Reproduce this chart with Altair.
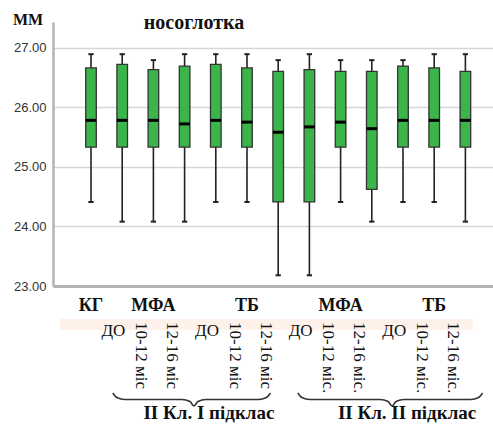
import altair as alt
import pandas as pd

# ---- data ----
labels = ["КГ", "ДО", "10-12 міс", "12-16 міс", "ДО", "10-12 міс", "12-16 міс",
          "ДО", "10-12 міс.", "12-16 міс.", "ДО", "10-12 міс.", "12-16 міс."]
w_low  = [24.41, 24.08, 24.08, 24.08, 24.41, 24.41, 23.18, 23.18, 24.41, 24.08, 24.41, 24.41, 24.08]
q1     = [25.33, 25.33, 25.33, 25.33, 25.33, 25.33, 24.41, 24.41, 25.33, 24.62, 25.33, 25.33, 25.33]
median = [25.78, 25.78, 25.78, 25.72, 25.78, 25.75, 25.58, 25.67, 25.75, 25.64, 25.78, 25.78, 25.78]
q3     = [26.66, 26.72, 26.63, 26.69, 26.72, 26.66, 26.60, 26.63, 26.60, 26.60, 26.69, 26.66, 26.60]
w_high = [26.89, 26.89, 26.79, 26.89, 26.89, 26.89, 26.79, 26.89, 26.79, 26.79, 26.79, 26.89, 26.89]

headers = ["КГ", "МФА", "ТБ", "МФА", "ТБ"]
header_center = [0, 2, 5, 8, 11]
subclasses = ["ІІ Кл. І підклас", "ІІ Кл. ІІ підклас"]
brace_start = [0.70, 6.63]
brace_tip = [3.30, 9.65]
brace_end = [5.75, 12.55]

y_ticks = [23, 24, 25, 26, 27]

# ---- layout helpers ----
W, H = 440, 264
Y_MIN, Y_MAX = 23.0, 27.43
X_MIN, X_MAX = -1.218, 12.885
PX_PER_Y = H / (Y_MAX - Y_MIN)
PX_PER_X = W / (X_MAX - X_MIN)

def below(px):
    """pixel distance below plot bottom -> y data value"""
    return Y_MIN - px / PX_PER_Y

idx = list(range(len(labels)))
df = pd.DataFrame({"i": idx, "label": labels, "lo": w_low, "q1": q1,
                   "med": median, "q3": q3, "hi": w_high})

xscale = alt.Scale(domain=[X_MIN, X_MAX], nice=False, zero=False)
yscale = alt.Scale(domain=[Y_MIN, Y_MAX], nice=False, zero=False)
xaxis = alt.Axis(labels=False, ticks=False, grid=False, title=None,
                 domainColor="#b3b3b3", domainWidth=3)
yaxis = alt.Axis(values=y_ticks, format=".2f", title=None, grid=True,
                 gridColor="#d6d6d6", gridWidth=1.5, ticks=False,
                 domainColor="#b3b3b3", domainWidth=2.5,
                 labelFont="Liberation Sans", labelFontSize=13,
                 labelColor="#333333", labelPadding=7)

def X(f):
    return alt.X(f, scale=xscale, axis=xaxis)

def Y(f):
    return alt.Y(f, scale=yscale, axis=yaxis)

HALF = 0.17
CAP = 0.085
SERIF = "Liberation Serif"

base = alt.Chart(df)

whisker = base.mark_rule(color="#222222", strokeWidth=1.6).encode(
    x=X("i:Q"), y=Y("lo:Q"), y2="hi:Q")

cap_hi = base.transform_calculate(a=f"datum.i-{CAP}", b=f"datum.i+{CAP}").mark_rule(
    color="#222222", strokeWidth=2).encode(x=X("a:Q"), x2="b:Q", y=Y("hi:Q"))
cap_lo = base.transform_calculate(a=f"datum.i-{CAP}", b=f"datum.i+{CAP}").mark_rule(
    color="#222222", strokeWidth=2).encode(x=X("a:Q"), x2="b:Q", y=Y("lo:Q"))

box = base.transform_calculate(a=f"datum.i-{HALF}", b=f"datum.i+{HALF}").mark_rect(
    fill="#3bb54a", stroke="#333333", strokeWidth=1.3).encode(
    x=X("a:Q"), x2="b:Q", y=Y("q1:Q"), y2="q3:Q")

med = base.transform_calculate(a=f"datum.i-{HALF}", b=f"datum.i+{HALF}").mark_rule(
    color="#000000", strokeWidth=3).encode(
    x=X("a:Q"), x2="b:Q", y=Y("med:Q"))

# light band behind the sub-labels
band = alt.Chart(pd.DataFrame({"k": [0]})).mark_rect(color="#fdf1e9").encode(
    x=alt.value(7), x2=alt.value(420), y=alt.value(297), y2=alt.value(308))

# sub labels
sub_df = df[df["i"] > 0].copy()
do_df = sub_df[sub_df["label"] == "ДО"]
rot_df = sub_df[sub_df["label"] != "ДО"]

do_text = alt.Chart(do_df).transform_calculate(p="datum.i-0.28").mark_text(
    font=SERIF, fontSize=17, color="#111111", baseline="middle", align="center").encode(
    x=X("p:Q"), y=alt.value(309), text="label:N")

rot_text = alt.Chart(rot_df).transform_calculate(p="datum.i-0.4").mark_text(
    font=SERIF, fontSize=17, color="#111111", baseline="middle", align="left",
    angle=90).encode(
    x=X("p:Q"), y=alt.value(300), text="label:N")

head_df = pd.DataFrame({"h": headers, "c": header_center})
head_text = alt.Chart(head_df).mark_text(
    font=SERIF, fontSize=18, fontWeight="bold", color="#111111",
    baseline="middle", align="center").encode(
    x=X("c:Q"), y=alt.value(284), text="h:N")

# braces
rows = []
for b, (s, t, e) in enumerate(zip(brace_start, brace_tip, brace_end)):
    u = 1.0 / PX_PER_X
    pts = [(s, 393), (s + 4 * u, 397.5), (s + 12 * u, 399.5), (t - 12 * u, 399.5),
           (t - 4 * u, 401.5), (t, 406), (t + 4 * u, 401.5), (t + 12 * u, 399.5),
           (e - 12 * u, 399.5), (e - 4 * u, 397.5), (e, 393)]
    for k, (px, py) in enumerate(pts):
        rows.append({"b": b, "k": k, "bx": px, "by": below(py - 286)})
brace_df = pd.DataFrame(rows)
brace = alt.Chart(brace_df).mark_line(color="#333333", strokeWidth=1.6,
                                      interpolate="monotone").encode(
    x=X("bx:Q"), y=Y("by:Q"), detail="b:N", order="k:Q")

sc_df = pd.DataFrame({"s": subclasses, "c": brace_tip})
sc_text = alt.Chart(sc_df).mark_text(
    font=SERIF, fontSize=19, fontWeight="bold", color="#111111",
    baseline="middle", align="center", dx=15).encode(
    x=X("c:Q"), y=alt.value(391), text="s:N")

title_text = alt.Chart(pd.DataFrame({"t": ["носоглотка"]})).mark_text(
    font=SERIF, fontSize=20, fontWeight="bold", color="#111111",
    baseline="middle", align="center").encode(
    x=alt.value(141), y=alt.value(1), text="t:N")

unit_text = alt.Chart(pd.DataFrame({"t": ["ММ"]})).mark_text(
    font=SERIF, fontSize=16, fontWeight="bold", color="#111111",
    baseline="middle", align="center").encode(
    x=alt.value(-25), y=alt.value(-2), text="t:N")

chart = alt.layer(
    band, whisker, cap_hi, cap_lo, box, med, do_text, rot_text, head_text,
    brace, sc_text, title_text, unit_text
).properties(
    width=W, height=H,
    autosize=alt.AutoSizeParams(type="none"),
    padding={"left": 53, "top": 22, "right": 0, "bottom": 143},
    background="white",
).configure_view(stroke=None)

chart.save("out.html", embed_options={"renderer": "svg", "actions": False})
